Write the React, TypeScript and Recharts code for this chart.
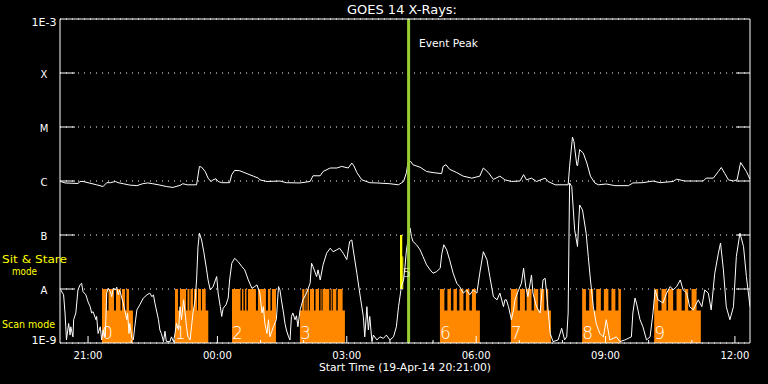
import {
  ComposedChart,
  Line,
  Area,
  Scatter,
  XAxis,
  YAxis,
  CartesianGrid,
  ReferenceLine,
  ReferenceArea,
} from "recharts";

// times are minutes after the plot start (19-Apr-14 20:21), fluxes in W/m^2
const START_MIN = 20 * 60 + 21;
const SPAN_MIN = 960;

const FONT = "DejaVu Sans";

// 1-8 Angstrom channel (upper curve)
const longChannel: [number, number][] = [
  [1, 9.8e-7], [7, 9.2e-7], [25, 9.0e-7], [28, 9.8e-7], [32, 9.8e-7], [39, 9.3e-7],
  [51, 8.5e-7], [60, 7.9e-7], [65, 9.3e-7], [70, 9.3e-7], [77, 9.8e-7], [81, 9.3e-7],
  [88, 8.9e-7], [97, 8.4e-7], [107, 8.2e-7], [115, 8.9e-7], [122, 9.2e-7], [129, 8.9e-7],
  [139, 8.4e-7], [148, 7.9e-7], [157, 7.6e-7], [167, 8.3e-7], [171, 8.9e-7], [177, 8.5e-7],
  [190, 8.5e-7], [194, 1.86e-6], [197, 1.8e-6], [202, 1.5e-6], [206, 1.13e-6], [210, 9.8e-7],
  [213, 1.05e-6], [217, 1.1e-6], [220, 9.8e-7], [225, 9.3e-7], [236, 9.3e-7], [239, 1.31e-6],
  [243, 1.57e-6], [250, 1.55e-6], [260, 1.37e-6], [269, 1.23e-6], [276, 1.13e-6], [278, 1.05e-6],
  [288, 9.8e-7], [306, 1.0e-6], [315, 9.3e-7], [334, 9.2e-7], [348, 9.8e-7], [352, 1.25e-6],
  [362, 1.25e-6], [366, 1.5e-6], [376, 1.74e-6], [385, 1.74e-6], [392, 1.86e-6], [401, 1.74e-6],
  [406, 2.15e-6], [409, 1.9e-6], [413, 1.43e-6], [420, 1.05e-6], [431, 9.3e-7], [441, 9.2e-7],
  [459, 8.9e-7], [471, 8.5e-7], [478, 9.8e-7], [482, 1.43e-6], [484, 2.15e-6], [488, 2.3e-6],
  [491, 2.0e-6], [501, 1.8e-6], [510, 1.5e-6], [519, 1.43e-6], [531, 1.37e-6], [533, 1.86e-6],
  [537, 2.0e-6], [542, 1.65e-6], [552, 1.43e-6], [561, 1.23e-6], [573, 1.13e-6], [584, 1.23e-6],
  [589, 1.74e-6], [596, 1.43e-6], [603, 1.07e-6], [612, 1.23e-6], [619, 1.05e-6], [628, 9.8e-7],
  [640, 1.0e-6], [645, 1.31e-6], [649, 1.05e-6], [656, 1.13e-6], [663, 9.8e-7], [675, 1.13e-6],
  [679, 9.8e-7], [689, 8.5e-7], [707, 8.5e-7], [709, 1.86e-6], [713, 6.5e-6], [715, 5.4e-6],
  [719, 2.0e-6], [720, 1.9e-6], [723, 3.8e-6], [728, 3.3e-6], [733, 2.15e-6], [738, 1.23e-6],
  [744, 9.2e-7], [749, 8.5e-7], [760, 8.8e-7], [772, 8.2e-7], [791, 8.2e-7], [797, 9.2e-7],
  [811, 9.3e-7], [825, 1.0e-6], [835, 9.3e-7], [853, 9.8e-7], [858, 1.08e-6], [869, 1.0e-6],
  [881, 1.0e-6], [895, 1.0e-6], [899, 1.13e-6], [909, 1.13e-6], [916, 1.5e-6], [920, 1.78e-6],
  [925, 1.37e-6], [930, 1.05e-6], [937, 1.0e-6], [942, 1.05e-6], [947, 2.2e-6], [955, 1.5e-6],
  [960, 1.08e-6],
];

// 0.5-4 Angstrom channel (lower curve)
const shortChannel: [number, number][] = [
  [1, 9.6e-9], [5, 7.8e-9], [7, 3.6e-9], [8, 2.0e-9], [9, 1.14e-9], [12, 2.3e-9],
  [14, 1.4e-9], [15, 2.0e-9], [18, 1.3e-9], [19, 2.7e-9], [22, 3.6e-9], [25, 9.6e-9],
  [28, 1.2e-8], [30, 1.28e-8], [32, 8.9e-9], [36, 7.8e-9], [39, 5.8e-9], [42, 4.7e-9],
  [44, 3.6e-9], [46, 3.8e-9], [50, 2.7e-9], [51, 3.1e-9], [53, 1.5e-9], [56, 2.0e-9],
  [58, 1.14e-9], [60, 1.74e-9], [63, 1.3e-9], [65, 8.4e-9], [67, 1.03e-8], [70, 8.9e-9],
  [72, 7.2e-9], [74, 1.03e-8], [77, 9.6e-9], [79, 1.08e-8], [81, 7.8e-9], [83, 9.6e-9],
  [86, 6.8e-9], [88, 5.5e-9], [90, 4.1e-9], [93, 2.7e-9], [94, 3.6e-9], [96, 1.5e-9],
  [97, 2.3e-9], [100, 1.22e-9], [102, 1.14e-9], [104, 2.0e-9], [107, 4.1e-9], [111, 5.1e-9],
  [116, 6.8e-9], [121, 7.8e-9], [125, 8.4e-9], [128, 7.2e-9], [130, 7.8e-9], [132, 5.5e-9],
  [135, 3.6e-9], [137, 2.7e-9], [139, 1.74e-9], [141, 1.5e-9], [144, 1.06e-9], [146, 1.65e-9],
  [148, 1.06e-9], [153, 1.06e-9], [155, 1.3e-9], [158, 1.06e-9], [160, 1.5e-9], [162, 2.3e-9],
  [165, 1.74e-9], [167, 4.7e-9], [169, 2.7e-9], [172, 6.3e-9], [174, 3.6e-9], [176, 2.0e-9],
  [178, 1.3e-9], [181, 1.14e-9], [183, 2.0e-9], [185, 3.6e-9], [188, 6.3e-9], [190, 1.47e-8],
  [192, 6.1e-8], [194, 1.08e-7], [197, 8.1e-8], [200, 4.9e-8], [204, 2.26e-8], [206, 1.47e-8],
  [209, 9.6e-9], [213, 1.11e-8], [218, 1.7e-8], [220, 8.4e-9], [223, 4.7e-9], [225, 3.1e-9],
  [227, 4.4e-9], [231, 5.1e-9], [234, 6.8e-9], [236, 1.47e-8], [239, 3.0e-8], [243, 3.7e-8],
  [248, 3.2e-8], [253, 2.6e-8], [257, 2.26e-8], [262, 1.47e-8], [267, 1.03e-8], [271, 1.11e-8],
  [274, 1.19e-8], [278, 8.4e-9], [281, 3.6e-9], [283, 4.7e-9], [285, 2.3e-9], [288, 1.5e-9],
  [290, 2.7e-9], [292, 1.3e-9], [297, 2.0e-9], [301, 2.7e-9], [304, 1.11e-8], [306, 9.6e-9],
  [308, 6.3e-9], [311, 3.6e-9], [313, 2.3e-9], [315, 1.74e-9], [318, 1.3e-9], [320, 1.14e-9],
  [322, 3.1e-9], [324, 3.6e-9], [327, 2.7e-9], [329, 3.2e-9], [331, 2.0e-9], [334, 4.1e-9],
  [338, 6.3e-9], [343, 8.4e-9], [348, 1.28e-8], [350, 3.0e-8], [352, 2.6e-8], [357, 1.7e-8],
  [359, 2.26e-8], [362, 1.47e-8], [366, 2.8e-8], [371, 4.6e-8], [376, 5.7e-8], [378, 5.3e-8],
  [380, 4.9e-8], [385, 5.3e-8], [389, 5.7e-8], [394, 4.6e-8], [399, 3.5e-8], [403, 7.6e-8],
  [406, 8.1e-8], [408, 5.3e-8], [413, 1.96e-8], [417, 8.4e-9], [422, 3.1e-9], [424, 1.3e-9],
  [427, 4.7e-9], [429, 1.74e-9], [431, 3.1e-9], [434, 1.06e-9], [436, 1.4e-9], [441, 1.14e-9],
  [445, 1.3e-9], [450, 1.22e-9], [454, 1.4e-9], [459, 1.14e-9], [464, 1.3e-9], [468, 2.0e-9],
  [471, 4.7e-9], [473, 7.2e-9], [475, 1.11e-8], [478, 1.47e-8], [480, 2.6e-8], [482, 5.3e-8],
  [484, 7.6e-8], [487, 1.34e-7], [489, 9.4e-8], [491, 7.6e-8], [496, 6.6e-8], [501, 5.3e-8],
  [505, 4.0e-8], [510, 2.8e-8], [515, 2.26e-8], [519, 1.96e-8], [524, 2.1e-8], [529, 2.43e-8],
  [531, 4.3e-8], [534, 6.6e-8], [538, 5.3e-8], [542, 3.5e-8], [547, 1.96e-8], [552, 1.28e-8],
  [556, 1.11e-8], [561, 8.4e-9], [566, 9.6e-9], [570, 7.8e-9], [575, 9.6e-9], [580, 8.4e-9],
  [584, 1.96e-8], [589, 4.9e-8], [594, 3.5e-8], [598, 1.7e-8], [603, 7.2e-9], [608, 6.3e-9],
  [612, 8.4e-9], [617, 4.7e-9], [619, 6.3e-9], [621, 6.3e-9], [624, 4.7e-9], [628, 2.7e-9],
  [631, 4.1e-9], [633, 6.3e-9], [638, 9.6e-9], [642, 1.28e-8], [645, 2.43e-8], [648, 1.11e-8],
  [651, 7.2e-9], [656, 1.82e-8], [658, 8.4e-9], [663, 4.7e-9], [668, 3.6e-9], [672, 1.47e-8],
  [675, 1.58e-8], [677, 8.4e-9], [682, 1.5e-9], [686, 1.06e-9], [693, 1.14e-9], [698, 1.87e-9],
  [702, 1.14e-9], [705, 1.3e-9], [707, 3.6e-9], [709, 9.2e-7], [712, 7.9e-7], [716, 1.25e-7],
  [720, 6.1e-8], [723, 3.6e-7], [727, 2.9e-7], [732, 1.08e-7], [735, 4.0e-8], [738, 1.47e-8],
  [742, 4.7e-9], [746, 2.3e-9], [751, 1.5e-9], [756, 1.3e-9], [760, 2.7e-9], [765, 1.14e-9],
  [774, 1.3e-9], [779, 1.06e-9], [786, 1.14e-9], [795, 1.3e-9], [797, 3.6e-9], [800, 6.8e-9],
  [802, 5.5e-9], [807, 2.7e-9], [811, 2.0e-9], [816, 1.14e-9], [821, 1.3e-9], [825, 3.6e-9],
  [828, 9.6e-9], [832, 6.3e-9], [839, 5.5e-9], [844, 8.4e-9], [849, 1.11e-8], [853, 9.6e-9],
  [858, 1.11e-8], [863, 1.47e-8], [867, 9.6e-9], [872, 8.4e-9], [876, 4.7e-9], [881, 4.1e-9],
  [888, 6.3e-9], [893, 4.7e-9], [897, 9.6e-9], [902, 8.4e-9], [906, 4.1e-9], [911, 1.96e-8],
  [916, 4.6e-8], [919, 7.1e-8], [923, 2.26e-8], [927, 4.7e-9], [932, 2.7e-9], [937, 4.7e-9],
  [941, 4.0e-8], [946, 1.08e-7], [951, 6.1e-8], [955, 1.7e-8], [960, 4.7e-9],
];

// scan mode periods (orange)
const scanStart = [58.4, 160, 239.3, 333.8, 528.6, 627.3, 726.5, 826.7];
const scanFullEnd = [96, 202.7, 300.5, 393.2, 578.7, 679.2, 780.4, 885.7];
const scanEnd = [101.5, 206.3, 300.5, 396.4, 584.2, 683, 780.4, 891.6];
const scanLabels = ["0", "1", "2", "3", "6", "7", "8", "9"];
const scanNotches: [number, number][] = [
  [65.4, 67.5], [75.1, 77.9], [84.2, 86.2], [90.4, 92.5],
  [164.1, 166.9], [175.3, 177.4], [180.1, 181.5], [185, 186.4], [190.6, 192], [196.1, 197.5],
  [251.1, 253.2], [255.2, 257.3], [259.4, 261.5], [272.6, 275.4], [286.5, 289.3], [292.8, 294.9],
  [333.8, 337], [340.1, 341.5], [342.9, 344.3], [346.4, 347.8], [353.4, 355.5], [360.4, 362.5],
  [363.9, 365.3], [374.6, 376.7], [378.1, 379.5], [384.4, 386.5],
  [534.8, 539], [543.9, 547.4], [552.2, 555.7], [561.3, 564.7], [569.6, 573.1],
  [636.7, 639.9], [646.8, 649.2], [656.1, 659.3], [665.3, 667.7], [673.7, 677],
  [731.7, 736.3], [741.8, 746], [752.5, 756.7], [763, 767.2], [772.7, 776.9],
  [832.2, 836.9], [843.8, 846], [853.1, 857.8], [864.8, 869.4], [874, 878.7],
];
const SCAN_FULL = 1e-8;
const SCAN_PART = 4e-9;
const FLOOR = 1e-9;

// sit & stare period (yellow)
const sitStareTimes = [473, 476.2, 477.6];
const sitStareTop = [1e-7, 4e-8];
const sitStareLabel = { t: 477, v: 1.67e-8, text: "5" };

const eventPeak = 485;

const yTicks = [1e-9, 1e-8, 1e-7, 1e-6, 1e-5, 1e-4, 1e-3];
const yTickLabels = ["1E-9", "A", "B", "C", "M", "X", "1E-3"];
const hourTicks = [39, 99, 159, 219, 279, 339, 399, 459, 519, 579, 639, 699, 759, 819, 879, 939];

const toPoints = (arr: [number, number][]) => arr.map(([t, v]) => ({ t, v }));

const scanSteps: { t: number; v: number }[] = [{ t: 0, v: FLOOR }];
scanStart.forEach((s, i) => {
  scanSteps.push({ t: s, v: SCAN_FULL });
  scanNotches
    .filter(([a]) => a >= s && a < scanFullEnd[i])
    .forEach(([a, b]) => {
      scanSteps.push({ t: a, v: SCAN_PART }, { t: b, v: SCAN_FULL });
    });
  if (scanEnd[i] > scanFullEnd[i]) scanSteps.push({ t: scanFullEnd[i], v: SCAN_PART });
  scanSteps.push({ t: scanEnd[i], v: FLOOR });
});
scanSteps.push({ t: SPAN_MIN, v: FLOOR });

const labelPoints = [
  ...scanStart.map((t, i) => ({ t, v: 1.17e-9, text: scanLabels[i], size: 17 })),
  { ...sitStareLabel, size: 13 },
];

const clock = (t: number) => {
  const m = START_MIN + t;
  const hh = Math.floor(m / 60) % 24;
  const mm = Math.round(m % 60);
  return `${String(hh).padStart(2, "0")}:${String(mm).padStart(2, "0")}`;
};
const isMajor = (t: number) => Math.floor((START_MIN + t) / 60) % 3 === 0;

function BottomTick({ x, y, payload }: any) {
  const major = isMajor(payload.value);
  return (
    <g>
      <line x1={x} x2={x} y1={y} y2={y - (major ? 7 : 3)} stroke="#fff" />
      {major && (
        <text x={x} y={y + 16} fill="#fff" fontSize={10} fontFamily={FONT} textAnchor="middle"
          textLength={29} lengthAdjust="spacingAndGlyphs">
          {clock(payload.value)}
        </text>
      )}
    </g>
  );
}

function TopTick({ x, y, payload }: any) {
  const major = isMajor(payload.value);
  return <line x1={x} x2={x} y1={y} y2={y + (major ? 7 : 3)} stroke="#fff" />;
}

function LeftTick({ x, y, payload }: any) {
  const i = yTicks.indexOf(payload.value);
  const edge = i === 0 || i === yTicks.length - 1;
  const dy = i === 0 ? 1 : i === yTicks.length - 1 ? 7 : 4.5;
  const label = yTickLabels[i];
  return (
    <g>
      {!edge && <line x1={x} x2={x + 15} y1={y} y2={y} stroke="#fff" />}
      <text x={x - 16} y={y + dy} fill="#fff" fontSize={10} fontFamily={FONT} textAnchor="middle"
        {...(label.length > 1 ? { textLength: 25, lengthAdjust: "spacingAndGlyphs" } : {})}>
        {label}
      </text>
    </g>
  );
}

function RightTick({ x, y, payload }: any) {
  const i = yTicks.indexOf(payload.value);
  if (i === 0 || i === yTicks.length - 1) return <g />;
  return <line x1={x} x2={x - 14} y1={y} y2={y} stroke="#fff" />;
}

function NumberLabel(props: any) {
  const { cx, cy, payload } = props;
  return (
    <text x={cx} y={cy} fill="#fff" fontSize={payload.size} fontFamily={FONT} fontWeight={200}>
      {payload.text}
    </text>
  );
}

export default function App() {
  const txt = { fontFamily: FONT, fill: "#fff" };
  return (
    <div style={{ position: "absolute", left: 0, top: 0, width: 768, height: 384, background: "#000" }}>
      <ComposedChart width={768} height={384} margin={{ top: 18, right: 17, bottom: 0, left: 0 }}>
        <CartesianGrid vertical={false} stroke="#fff" strokeDasharray="1 5" />
        <XAxis dataKey="t" type="number" domain={[0, SPAN_MIN]} ticks={hourTicks} interval={0}
          allowDataOverflow height={41} tickSize={0} tickMargin={0} tickLine={false}
          axisLine={{ stroke: "#fff" }} tick={<BottomTick />} />
        <XAxis xAxisId="top" orientation="top" type="number" domain={[0, SPAN_MIN]} ticks={hourTicks}
          interval={0} allowDataOverflow height={1} tickSize={0} tickMargin={0} tickLine={false}
          axisLine={{ stroke: "#fff" }} tick={<TopTick />} />
        <YAxis type="number" scale="log" domain={[1e-9, 1e-3]} ticks={yTicks} interval={0}
          allowDataOverflow width={60} tickSize={0} tickMargin={0} tickLine={false}
          axisLine={{ stroke: "#fff" }} tick={<LeftTick />} />
        <YAxis yAxisId="right" orientation="right" type="number" scale="log" domain={[1e-9, 1e-3]}
          ticks={yTicks} interval={0} allowDataOverflow width={1} tickSize={0} tickMargin={0}
          tickLine={false} axisLine={{ stroke: "#fff" }} tick={<RightTick />} />
        <Area data={scanSteps} dataKey="v" type="stepAfter" baseValue={FLOOR} fill="#ff8800"
          fillOpacity={1} stroke="none" isAnimationActive={false} />
        <ReferenceArea x1={sitStareTimes[0]} x2={sitStareTimes[1]} y1={1e-8} y2={sitStareTop[0]}
          fill="#ffff00" fillOpacity={1} stroke="none" />
        <ReferenceArea x1={sitStareTimes[1]} x2={sitStareTimes[2]} y1={1e-8} y2={sitStareTop[1]}
          fill="#ffff00" fillOpacity={1} stroke="none" />
        <Line data={toPoints(longChannel)} dataKey="v" type="linear" stroke="#fff" strokeWidth={1}
          dot={false} isAnimationActive={false} />
        <Line data={toPoints(shortChannel)} dataKey="v" type="linear" stroke="#fff" strokeWidth={1}
          dot={false} isAnimationActive={false} />
        <Scatter data={labelPoints} dataKey="v" shape={<NumberLabel />} isAnimationActive={false} />
        <ReferenceLine x={eventPeak} stroke="#9acd32" strokeWidth={3} />
      </ComposedChart>
      <svg width={768} height={384} style={{ position: "absolute", left: 0, top: 0, pointerEvents: "none" }}>
        <text x={402} y={14} fontSize={12} textAnchor="middle" textLength={110} lengthAdjust="spacingAndGlyphs" {...txt}>
          GOES 14 X-Rays:
        </text>
        <text x={419} y={46.5} fontSize={11} textLength={59} lengthAdjust="spacingAndGlyphs" {...txt}>
          Event Peak
        </text>
        <text x={405} y={371} fontSize={10.5} textAnchor="middle" textLength={172} lengthAdjust="spacingAndGlyphs" {...txt}>
          Start Time (19-Apr-14 20:21:00)
        </text>
        <text x={2} y={262.5} fontSize={11} fontFamily={FONT} fill="#ffff00" textLength={65} lengthAdjust="spacingAndGlyphs">
          Sit &amp; Stare
        </text>
        <text x={12} y={275} fontSize={11} fontFamily={FONT} fill="#ffff00" textLength={25} lengthAdjust="spacingAndGlyphs">
          mode
        </text>
        <text x={2} y={327.5} fontSize={11} fontFamily={FONT} fill="#ffff00" textLength={53} lengthAdjust="spacingAndGlyphs">
          Scan mode
        </text>
      </svg>
    </div>
  );
}
